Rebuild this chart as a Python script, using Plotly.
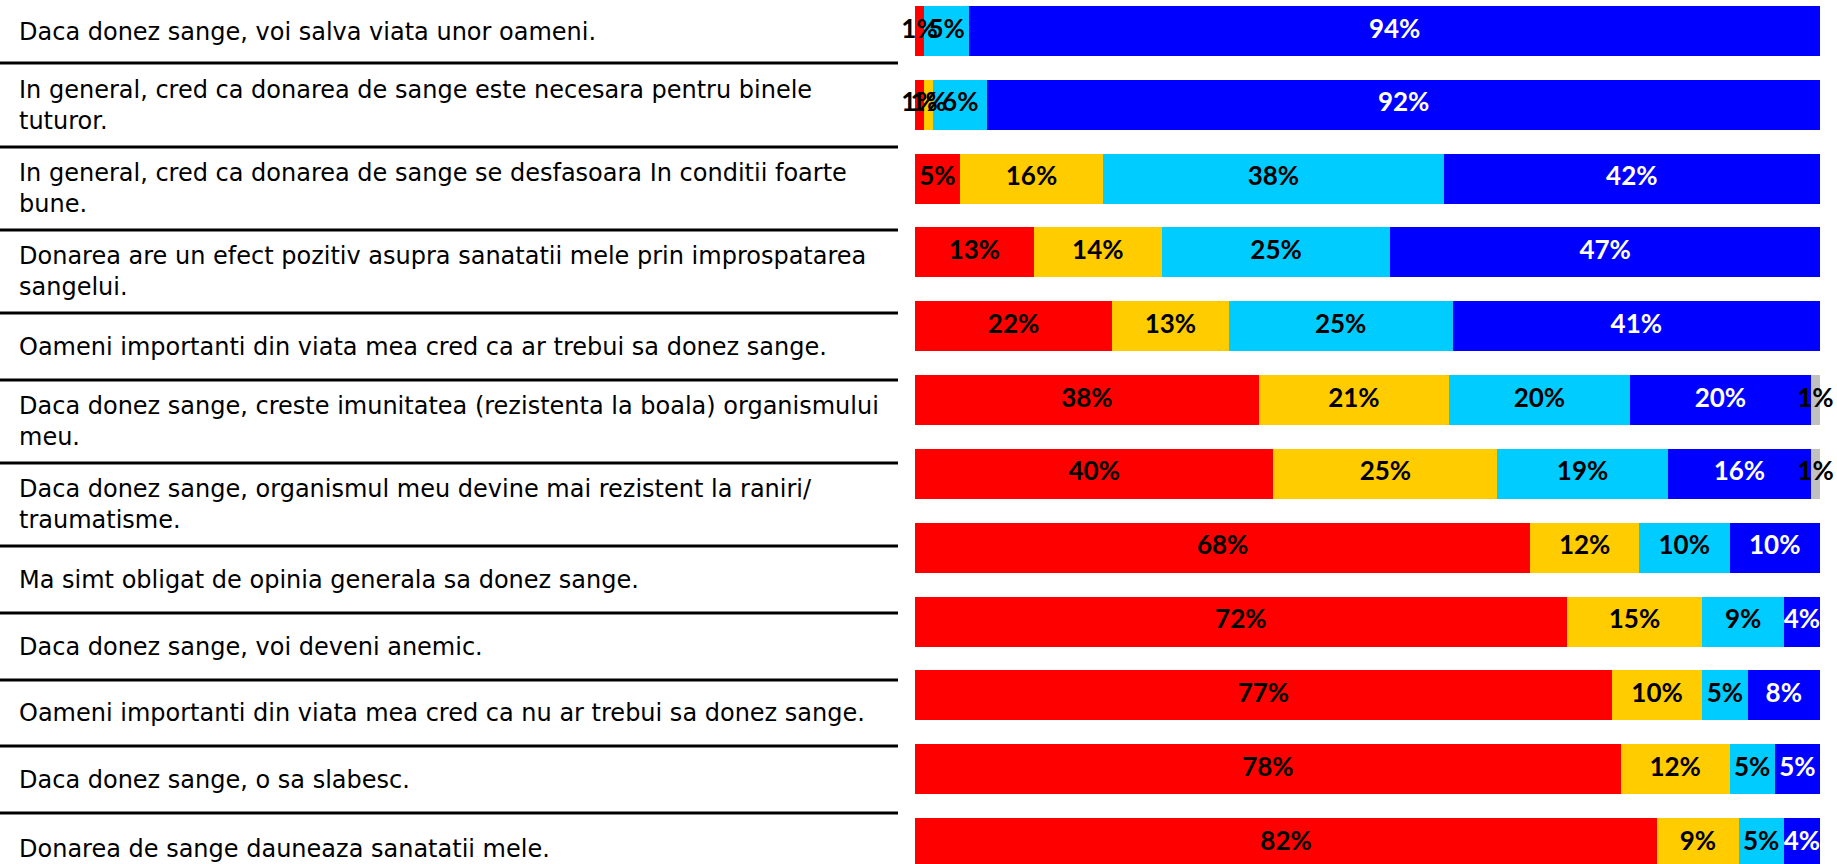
import plotly.graph_objects as go

W, H = 1837, 864

statements = [
    "Daca donez sange, voi salva viata unor oameni.",
    "In general, cred ca donarea de sange este necesara pentru binele<br>tuturor.",
    "In general, cred ca donarea de sange se desfasoara In conditii foarte<br>bune.",
    "Donarea are un efect pozitiv asupra sanatatii mele prin improspatarea<br>sangelui.",
    "Oameni importanti din viata mea cred ca ar trebui sa donez sange.",
    "Daca donez sange, creste imunitatea (rezistenta la boala) organismului<br>meu.",
    "Daca donez sange, organismul meu devine mai rezistent la raniri/<br>traumatisme.",
    "Ma simt obligat de opinia generala sa donez sange.",
    "Daca donez sange, voi deveni anemic.",
    "Oameni importanti din viata mea cred ca nu ar trebui sa donez sange.",
    "Daca donez sange, o sa slabesc.",
    "Donarea de sange dauneaza sanatatii mele.",
]

dezacord_total = [1, 1, 5, 13, 22, 38, 40, 68, 72, 77, 78, 82]
dezacord = [0, 1, 16, 14, 13, 21, 25, 12, 15, 10, 12, 9]
acord = [5, 6, 38, 25, 25, 20, 19, 10, 9, 5, 5, 5]
acord_total = [94, 92, 42, 47, 41, 20, 16, 10, 4, 8, 5, 4]
nu_stiu = [0, 0, 0, 0, 0, 1, 1, 0, 0, 0, 0, 0]

series = [
    ("Dezacord total", dezacord_total, "#FF0000", "black"),
    ("Dezacord", dezacord, "#FFCC00", "black"),
    ("Acord", acord, "#00CCFF", "black"),
    ("Acord total", acord_total, "#0000FF", "white"),
    ("NS/NR", nu_stiu, "#C0C0C0", "black"),
]

# row separators of the left table (pixels from top)
sep_lines = [63, 147, 230, 313, 380, 463, 546, 613, 680, 746, 813]


def py(p):
    return 1 - p / H


def px(p):
    return p / W


totals = [sum(s[1][i] for s in series) for i in range(len(statements))]

fig = go.Figure()
for name, vals, color, tcolor in series:
    fig.add_trace(go.Bar(
        y=statements, x=vals, name=name, orientation="h",
        marker=dict(color=color, line=dict(width=0)),
        hoverinfo="skip",
    ))

# percentage labels on top of all bars (centre of each normalised segment)
cum = [0] * len(statements)
for name, vals, color, tcolor in series:
    xs, ys, ts = [], [], []
    for i, v in enumerate(vals):
        if v > 0:
            xs.append((cum[i] + v / 2) / totals[i] * 100)
            ys.append(statements[i])
            ts.append(f"{v}%")
        cum[i] += v
    fig.add_trace(go.Scatter(
        x=xs, y=ys, text=ts, mode="text", textposition="middle center",
        textfont=dict(family="Lato", size=26, color=tcolor, weight="bold"),
        cliponaxis=False, hoverinfo="skip",
    ))

# left table: labels + separators
cells = [0] + sep_lines + [885]
for i, s in enumerate(statements):
    mid = (cells[i] + cells[i + 1]) / 2
    fig.add_annotation(
        x=px(17), y=py(mid), xref="paper", yref="paper",
        text=s, showarrow=False, xanchor="left", yanchor="middle", align="left",
        font=dict(family="DejaVu Sans", size=24, color="black"),
    )
for s in sep_lines:
    fig.add_shape(type="line", xref="paper", yref="paper",
                  x0=0, x1=px(898), y0=py(s), y1=py(s),
                  line=dict(color="black", width=3))

fig.update_layout(
    width=W, height=H, autosize=False,
    margin=dict(l=0, r=0, t=0, b=0),
    barmode="stack", barnorm="percent", bargap=0.3227,
    showlegend=False,
    plot_bgcolor="white", paper_bgcolor="white",
    xaxis=dict(domain=[915 / W, 1820 / W], range=[0, 100],
               visible=False, fixedrange=True),
    yaxis=dict(type="category", categoryorder="array", categoryarray=statements,
               range=[11.284, -0.42], visible=False, fixedrange=True),
)

fig.write_html("out.html", config={"displayModeBar": False},
               post_script="document.body.style.margin='0px';")
